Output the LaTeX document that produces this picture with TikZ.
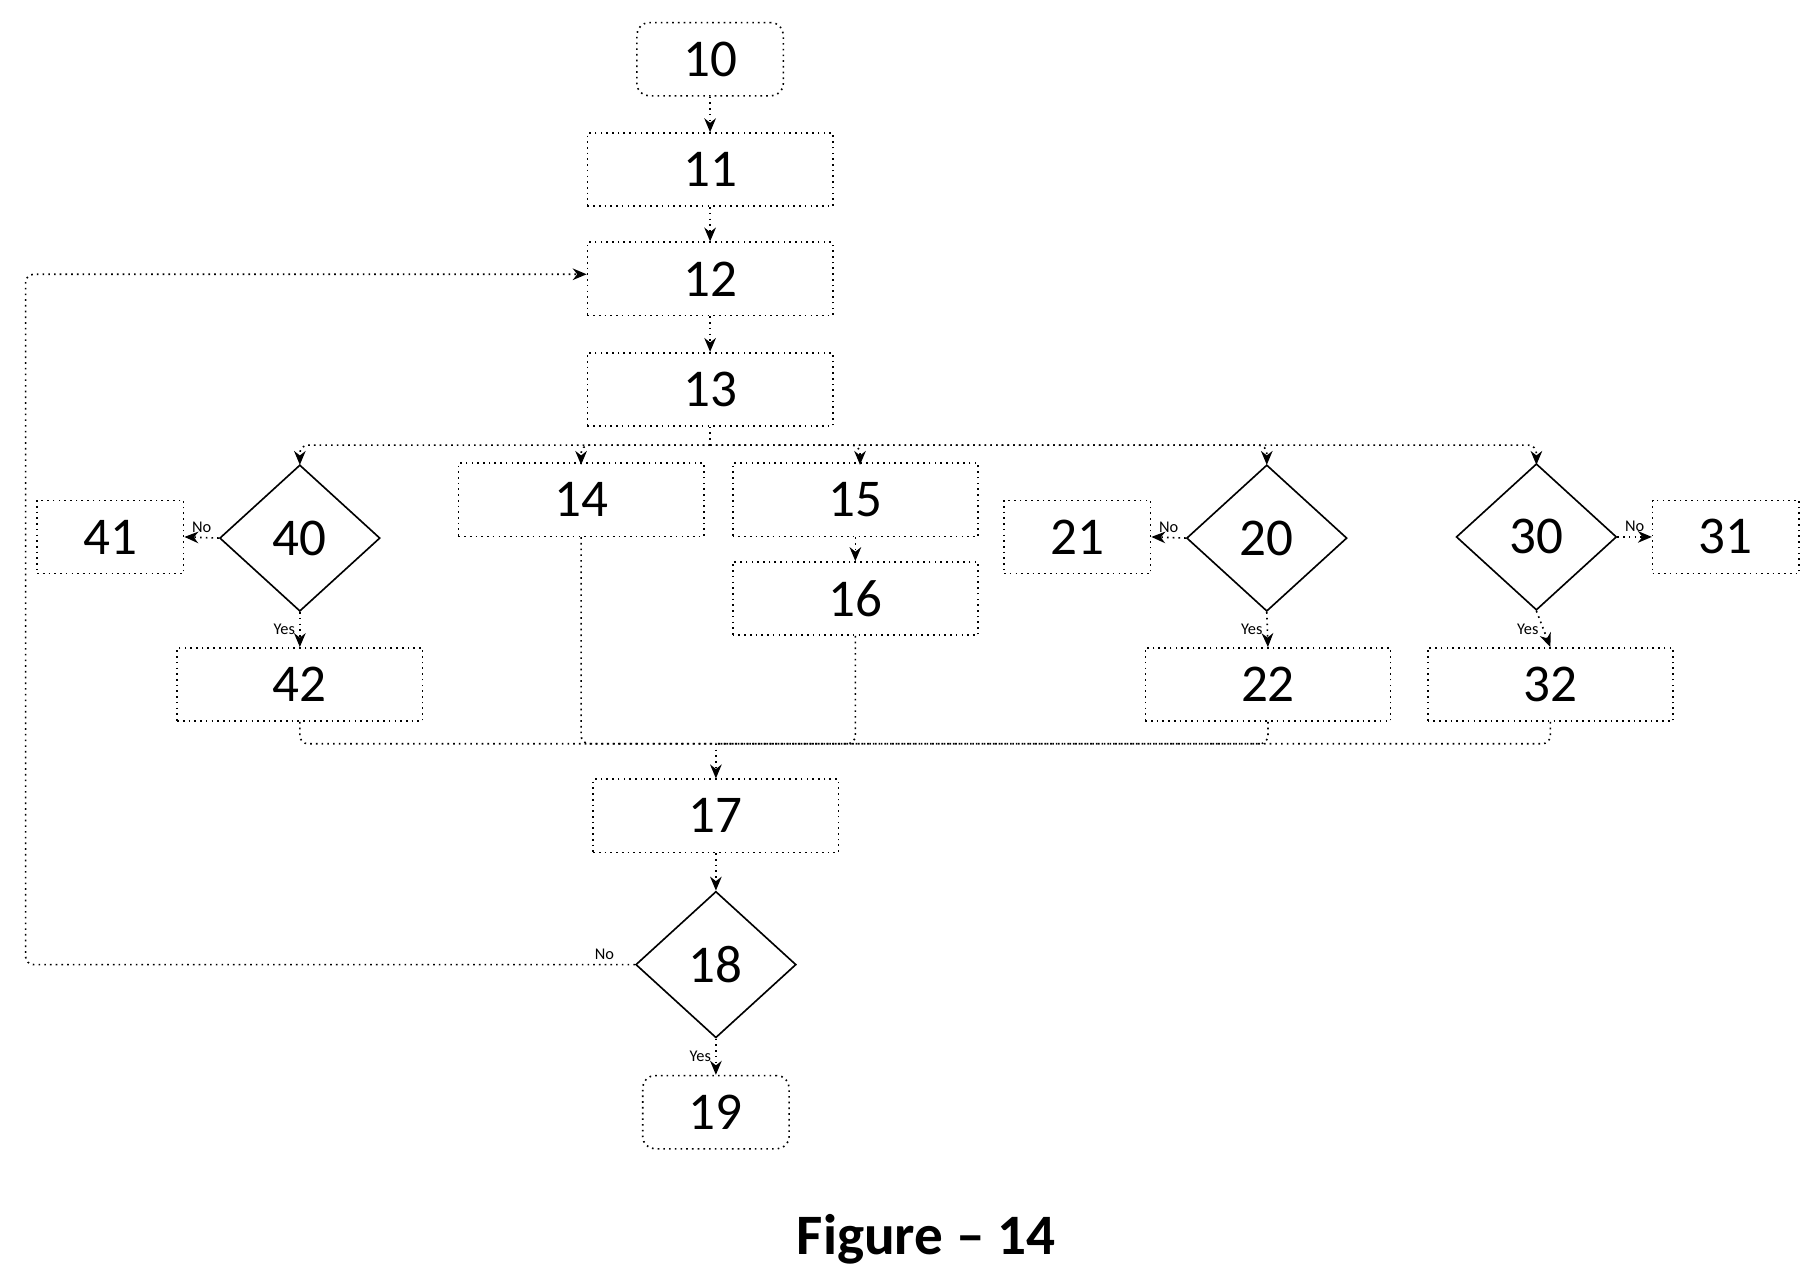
\documentclass[tikz,border=0pt]{standalone}
\usepackage{fontspec}
\setmainfont{Carlito}
\usetikzlibrary{arrows.meta, positioning, shapes.geometric}

\tikzset{
  box/.style={draw, densely dotted, minimum width=21.1mm, minimum height=6.3mm, font=\fontsize{13}{13}\selectfont, inner sep=0pt},
  smallbox/.style={box, minimum width=12.6mm},
  term/.style={smallbox, rounded corners=3pt},
  dec/.style={draw, diamond, minimum width=13.8mm, minimum height=12.6mm, inner sep=0pt, font=\fontsize{13}{13}\selectfont},
  flow/.style={densely dotted, -{Stealth[length=1.2mm,width=1mm]}},
  wire/.style={densely dotted, rounded corners=2pt},
  tag/.style={font=\fontsize{4}{4}\selectfont, inner sep=1pt}
}

\begin{document}
\begin{tikzpicture}[x=0.1mm, y=-0.1mm]
  \useasboundingbox (0,0) rectangle (1560,1096);

  % main column
  \node[term] (n10) at (611,51) {10};
  \node[box] (n11) at (611,146) {11};
  \node[box] (n12) at (611,240) {12};
  \node[box] (n13) at (611,335) {13};

  % branches
  \node[dec] (n40) at (258,463) {40};
  \node[smallbox] (n41) at (95,462) {41};
  \node[box] (n42) at (258,589) {42};
  \node[box] (n14) at (500,430) {14};
  \node[box] (n15) at (736,430) {15};
  \node[box] (n16) at (736,515) {16};
  \node[dec] (n20) at (1090,463) {20};
  \node[smallbox] (n21) at (927,462) {21};
  \node[box] (n22) at (1091,589) {22};
  \node[dec] (n30) at (1322,462) {30};
  \node[smallbox] (n31) at (1485,462) {31};
  \node[box] (n32) at (1334,589) {32};

  % bottom
  \node[box] (n17) at (616,702) {17};
  \node[dec] (n18) at (616,830) {18};
  \node[term] (n19) at (616,957) {19};

  \coordinate (split) at (611,383);
  \coordinate (merge) at (616,640);
  \coordinate (loopa) at (22,830);
  \coordinate (loopb) at (22,236);

  \draw[flow] (n10) -- (n11);
  \draw[flow] (n11) -- (n12);
  \draw[flow] (n12) -- (n13);
  \draw[wire] (n13.south) -- (split);
  \foreach \x in {258, 500, 740, 1090, 1322}
    \draw[flow, rounded corners=2pt] (split) -| (\x,400);
  \draw[flow] (n15) -- (n16);

  \draw[flow] (n40.west) -- node[tag, above] {No} (n41.east);
  \draw[flow] (n40.south) -- node[tag, left] {Yes} (n42.north);
  \draw[flow] (n20.west) -- node[tag, above] {No} (n21.east);
  \draw[flow] (n20.south) -- node[tag, left] {Yes} (n22.north);
  \draw[flow] (n30.east) -- node[tag, above] {No} (n31.west);
  \draw[flow] (n30.south) -- node[tag, left] {Yes} (n32.north);

  \foreach \s in {n42, n14, n16, n22, n32}
    \draw[wire] (\s.south) |- (merge);
  \draw[flow] (merge) -- (n17);
  \draw[flow] (n17) -- (n18);
  \draw[flow] (n18) -- node[tag, left] {Yes} (n19);
  \draw[flow, rounded corners=2pt] (n18.west) -- node[tag, above, pos=0.05] {No} (loopa) -- (loopb) -- (n12.west |- loopb);

  \node[font=\bfseries\fontsize{14}{14}\selectfont] (cap) at (797,1066) {Figure – 14};
\end{tikzpicture}
\end{document}
